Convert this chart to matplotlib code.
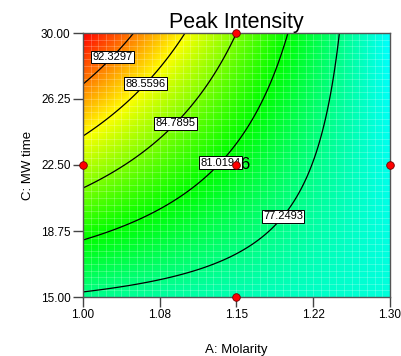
import numpy as np
import matplotlib.pyplot as plt
from matplotlib.colors import ListedColormap, hsv_to_rgb

plt.rcParams['font.family'] = ['Liberation Sans', 'DejaVu Sans']

# response surface in coded units a=(A-1.15)/0.15, c=(C-22.5)/7.5
b0, bA, bC, bAC = 80.28, -6.18, 4.51, -5.07

molarity_ticks = [1.00, 1.075, 1.15, 1.225, 1.30]
molarity_labels = ['1.00', '1.08', '1.15', '1.22', '1.30']
time_ticks = [15.0, 18.75, 22.5, 26.25, 30.0]
time_labels = ['15.00', '18.75', '22.50', '26.25', '30.00']
levels = [77.2493, 81.0194, 84.7895, 88.5596, 92.3297]
label_pos = [(1.195, 19.6), (1.131, 22.8), (1.087, 25.06), (1.0586, 27.27), (1.0264, 28.75)]
design_A = [1.15, 1.00, 1.15, 1.30, 1.15]
design_C = [30.0, 22.5, 22.5, 22.5, 15.0]
center_runs = '6'

A = np.linspace(1.0, 1.3, 300)
C = np.linspace(15.0, 30.0, 300)
AA, CC = np.meshgrid(A, C)
a = (AA - 1.15) / 0.15
c = (CC - 22.5) / 7.5
Z = b0 + bA * a + bC * c + bAC * a * c

# cyan -> green -> yellow -> red by hue
hues = np.linspace(0.5, 0.0, 256)
cmap = ListedColormap(hsv_to_rgb(np.column_stack([hues, np.ones(256), np.ones(256)])))

fig = plt.figure(figsize=(4.02, 3.56), dpi=100)
ax = fig.add_axes([83 / 402, 1 - 297 / 356, 307 / 402, 264 / 356])
ax.pcolormesh(AA, CC, Z, cmap=cmap, shading='gouraud', vmin=Z.min(), vmax=Z.max())

# faint grid like the original software
for x in np.linspace(1.0, 1.3, 41):
    ax.axvline(x, color='white', alpha=0.25, lw=0.6)
for y in np.linspace(15.0, 30.0, 41):
    ax.axhline(y, color='white', alpha=0.25, lw=0.6)

cs = ax.contour(AA, CC, Z, levels=levels, colors='black', linewidths=0.9)
texts = ax.clabel(cs, fmt='%.4f', manual=label_pos, inline=False, fontsize=8)
for t in texts:
    t.set_rotation(0)
    t.set_bbox(dict(boxstyle='square,pad=0.12', fc='white', ec='black', lw=0.7))

ax.scatter(design_A, design_C, s=30, c='red', edgecolors='#700000', linewidths=0.6,
           zorder=6, clip_on=False)
ax.annotate(center_runs, (1.15, 22.5), xytext=(2.5, 0), textcoords='offset points',
            fontsize=12, va='center', ha='left', zorder=7)

ax.set_xlim(1.0, 1.3)
ax.set_ylim(15.0, 30.0)
ax.set_xticks(molarity_ticks)
ax.set_xticklabels(molarity_labels)
ax.set_yticks(time_ticks)
ax.set_yticklabels(time_labels)
ax.tick_params(direction='out', length=7, width=1, color='#444444', labelsize=8.5, pad=2)
for s in ax.spines.values():
    s.set_color('#555555')
    s.set_linewidth(1)

ax.set_title('Peak Intensity', fontsize=15.5, pad=3)
ax.set_xlabel('A: Molarity', fontsize=9.5, labelpad=16)
ax.set_ylabel('C: MW time', fontsize=9.5, labelpad=5)

fig.savefig('out.png', dpi=100)
